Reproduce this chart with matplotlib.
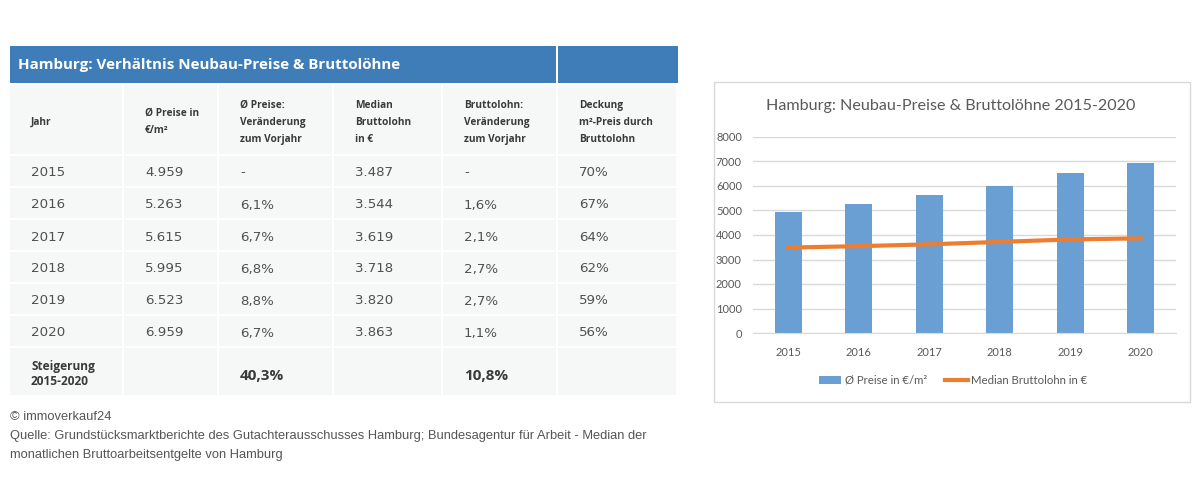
import matplotlib.pyplot as plt
from matplotlib.patches import Rectangle
import numpy as np

# data
years = [2015, 2016, 2017, 2018, 2019, 2020]
prices = [4959, 5263, 5615, 5995, 6523, 6959]
price_change = [None, 6.1, 6.7, 6.8, 8.8, 6.7]
wages = [3487, 3544, 3619, 3718, 3820, 3863]
wage_change = [None, 1.6, 2.1, 2.7, 2.7, 1.1]
coverage = [70, 67, 64, 62, 59, 56]
total_price_change = 40.3
total_wage_change = 10.8

table_title = 'Hamburg: Verhältnis Neubau-Preise & Bruttolöhne'
col_heads = ['Jahr', 'Ø Preise in\n€/m²', 'Ø Preise:\nVeränderung\nzum Vorjahr',
             'Median\nBruttolohn\nin €', 'Bruttolohn:\nVeränderung\nzum Vorjahr',
             'Deckung\nm²-Preis durch\nBruttolohn']
chart_title = 'Hamburg: Neubau-Preise & Bruttolöhne 2015-2020'
bar_label = 'Ø Preise in €/m²'
line_label = 'Median Bruttolohn in €'
footer = ['© immoverkauf24',
          'Quelle: Grundstücksmarktberichte des Gutachterausschusses Hamburg; '
          'Bundesagentur für Arbeit - Median der',
          'monatlichen Bruttoarbeitsentgelte von Hamburg']


def de_int(v):
    return f'{v:,}'.replace(',', '.')


def de_pct(v):
    if v is None:
        return '-'
    return f'{v:.1f}'.replace('.', ',') + '%'


W, H = 1200, 479
fig = plt.figure(figsize=(W / 100, H / 100), dpi=100)
bg = fig.add_axes([0, 0, 1, 1])
bg.set_xlim(0, W)
bg.set_ylim(H, 0)
bg.axis('off')

blue = '#3f7db8'
cell = '#f6f7f7'
txt = '#3a3a3a'
num_txt = '#505050'
font = ['DejaVu Sans']
bold_font = ['Open Sans', 'DejaVu Sans']

col_x = [10, 124, 219, 334, 443, 558, 678]
gap = 2

# title bar
bg.add_patch(Rectangle((col_x[0], 46), col_x[5] - col_x[0] - gap, 37, color=blue, lw=0))
bg.add_patch(Rectangle((col_x[5], 46), col_x[6] - col_x[5], 37, color=blue, lw=0))
bg.text(18, 65, table_title, color='white', fontsize=10.9, fontweight='bold',
        va='center', ha='left', family=bold_font)

# header row
for i, head in enumerate(col_heads):
    x0, x1 = col_x[i], col_x[i + 1] - gap
    bg.add_patch(Rectangle((x0, 85), x1 - x0, 69, color=cell, lw=0))
    bg.text(x0 + 21, 122, head, color=txt, fontsize=7.3, fontweight='bold',
            va='center', ha='left', family=bold_font, linespacing=1.75)

# data rows
row_top = 156
row_h = 32
for r, yr in enumerate(years):
    vals = [str(yr), de_int(prices[r]), de_pct(price_change[r]),
            de_int(wages[r]), de_pct(wage_change[r]), f'{coverage[r]}%']
    y0 = row_top + r * row_h
    for i, v in enumerate(vals):
        x0, x1 = col_x[i], col_x[i + 1] - gap
        bg.add_patch(Rectangle((x0, y0), x1 - x0, row_h - gap, color=cell, lw=0))
        bg.text(x0 + 21, y0 + (row_h - gap) / 2 + 2, v, color=num_txt, fontsize=9.6,
                va='center', ha='left', family=font)

# total row
y0 = row_top + len(years) * row_h
last = ['Steigerung\n2015-2020', '', de_pct(total_price_change), '',
        de_pct(total_wage_change), '']
for i, v in enumerate(last):
    x0, x1 = col_x[i], col_x[i + 1] - gap
    bg.add_patch(Rectangle((x0, y0), x1 - x0, 47, color=cell, lw=0))
    if i == 0:
        bg.text(x0 + 21, y0 + 26, v, color=txt, fontsize=8.6, fontweight='bold',
                va='center', ha='left', family=bold_font, linespacing=1.15)
    elif v:
        bg.text(x0 + 21, y0 + 28, v, color=txt, fontsize=11, fontweight='bold',
                va='center', ha='left', family=bold_font)

# footer
for k, line in enumerate(footer):
    bg.text(10, 417 + k * 19, line, color='#555555', fontsize=9.3,
            va='center', ha='left', family=['Liberation Sans', 'DejaVu Sans'])

# chart box
bg.add_patch(Rectangle((714, 82), 476, 320, fill=False, ec='#d9d9d9', lw=1))
chart_font = ['Lato', 'DejaVu Sans']
bg.text(951, 106, chart_title, color='#595959', fontsize=11.6,
        ha='center', va='center', family=chart_font)

ax_l, ax_r, ax_t, ax_b = 753, 1176, 137, 333
ax = fig.add_axes([ax_l / W, 1 - ax_b / H, (ax_r - ax_l) / W, (ax_b - ax_t) / H])
x = np.arange(len(years))
bars = ax.bar(x, prices, width=0.39, color='#6a9fd3', label=bar_label, zorder=2)
line, = ax.plot(x, wages, color='#ed7d31', lw=3, label=line_label, zorder=3)
ax.set_xlim(-0.5, len(years) - 0.5)
ax.set_ylim(0, 8000)
ax.set_yticks(range(0, 8001, 1000))
ax.set_xticks(x)
ax.set_xticklabels([str(y) for y in years])
ax.yaxis.grid(True, color='#d9d9d9', lw=1, zorder=0)
for s in ['top', 'right', 'left']:
    ax.spines[s].set_visible(False)
ax.spines['bottom'].set_color('#d9d9d9')
ax.tick_params(axis='both', length=0, colors='#595959', labelsize=8)
ax.tick_params(axis='x', pad=10)
ax.tick_params(axis='y', pad=8)
for lab in ax.get_xticklabels() + ax.get_yticklabels():
    lab.set_family(chart_font)
ax.set_facecolor('none')

fig.legend(handles=[bars, line], labels=[bar_label, line_label],
           loc='center', bbox_to_anchor=(953 / W, 1 - 380 / H), ncol=2,
           frameon=False, prop={'family': chart_font, 'size': 8.2},
           labelcolor='#595959', handlelength=2.0, handletextpad=0.3,
           columnspacing=1.6)

fig.savefig('out.png', dpi=100)
